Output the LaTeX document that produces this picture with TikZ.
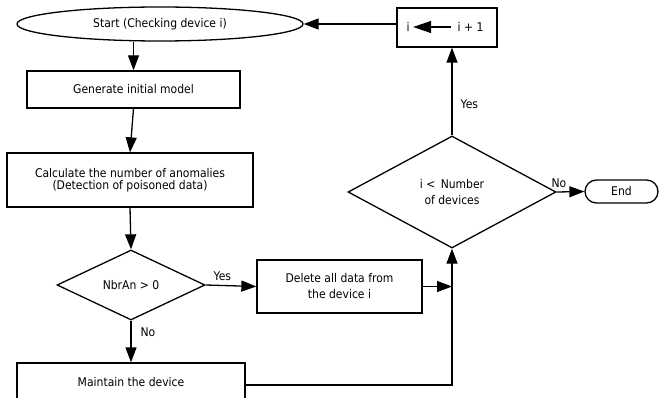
\documentclass[tikz,border=0pt]{standalone}
\usepackage{fontspec}
\setmainfont{DejaVu Sans}[FakeStretch=0.9]
\usetikzlibrary{arrows.meta,shapes.geometric}
\begin{document}
\begin{tikzpicture}[x=1pt,y=-1pt, line width=1.3pt,
  every node/.style={font=\fontsize{12}{16}\selectfont, text=black},
  box/.style={draw, rectangle, inner sep=2pt, align=center},
  dec/.style={draw, diamond, inner sep=0pt, align=center},
  arr/.style={-{Triangle[length=15pt,width=11pt]}},
  lbl/.style={inner sep=1pt}]
\useasboundingbox (0,0) rectangle (660,398);
\node[draw, ellipse, minimum width=286pt, minimum height=34pt] (start) at (160,24) {Start (Checking device i)};
\node[box, minimum width=213pt, minimum height=37pt] (gen) at (133.5,89.5) {Generate initial model};
\node[box, minimum width=246pt, minimum height=54pt, font=\fontsize{12}{12.5}\selectfont] (calc) at (130,180) {Calculate the number of anomalies\\(Detection of poisoned data)};
\node[dec, minimum width=148pt, minimum height=70pt] (d1) at (131,285) {NbrAn > 0};
\node[box, minimum width=165pt, minimum height=53pt] (del) at (339.5,286.5) {Delete all data from\\the device i};
\node[box, minimum width=228pt, minimum height=38pt] (maint) at (131,382) {Maintain the device};
\node[dec, minimum width=208pt, minimum height=112pt] (d2) at (452,192) {i < \,Number\\of devices};
\node[draw, rounded corners=11.5pt, minimum width=73pt, minimum height=23pt] (endn) at (621.5,191.5) {End};
\node[box, minimum width=100pt, minimum height=39pt] (inc) at (447,27.5) {};
\node[inner sep=0pt] (iv) at (408,27) {i};
\node[inner sep=0pt] (ip) at (470.5,27) {i + 1};
\draw[-{Triangle[length=18pt,width=12pt]}, shorten <=6pt, shorten >=3pt] (ip.west) -- (iv.east);
% connectors
\draw[arr] (gen.north |- start.south) -- (gen.north);
\draw[arr] (gen.south) -- (calc.north);
\draw[arr] (calc.south) -- (d1.north);
\draw[arr] (d1.east) -- node[lbl, above=3pt, pos=0.33]{Yes} (del.west);
\draw[arr] (d1.south) -- node[lbl, right=8pt, pos=0.28]{No} (maint.north);
\coordinate (j1) at (d2.south |- del.east);
\draw[arr] (del.east) -- (j1);
\draw[arr] ([yshift=-3pt]maint.east) -| (d2.south);
\draw[arr] (d2.north) -- node[lbl, right=7pt, pos=0.36]{Yes} (d2.north |- inc.south);
\draw[arr] (d2.east) -- node[lbl, above=3pt, pos=0.08]{No} (endn.west);
\draw[arr] (inc.west |- start.east) -- (start.east);
\end{tikzpicture}
\end{document}
